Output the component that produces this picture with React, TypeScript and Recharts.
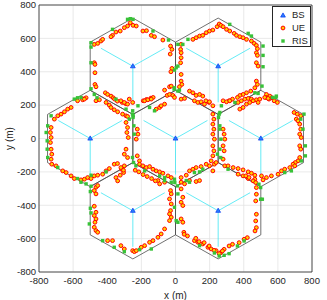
import React from 'react'
import { ScatterChart, Scatter, XAxis, YAxis, CartesianGrid, ReferenceLine, ReferenceArea } from 'recharts'

// base stations (cell centres), metres
const bsPoints: [number, number][] = [
  [0, 0], [-500, 0], [500, 0], [-250, 433], [250, 433], [-250, -433], [250, -433],
]

// user equipment
const uePoints: [number, number][] = [
  // top-left cell
  [-265, 694], [-281, 674], [-300, 664], [-324, 644], [-349, 638], [-369, 618], [-378, 610],
  [-476, 564], [-456, 570], [-437, 584], [-427, 594],
  [-476, 454], [-472, 444], [-472, 394], [-472, 324], [-466, 310],
  [-411, 274], [-398, 264], [-378, 254], [-365, 244], [-357, 236], [-341, 224], [-312, 216], [-291, 208],
  [-524, 244], [-544, 238],
  [-249, 678], [-230, 674], [-191, 644], [-170, 646], [-142, 618], [-123, 610], [-74, 590],
  [-29, 554], [-21, 534], [-31, 506], [-21, 420], [-27, 400], [-35, 310],
  [-25, 314], [-64, 290], [-49, 258], [-35, 264], [-15, 258],
  [-189, 226], [-170, 234], [-144, 242], [-131, 246],
  [-466, 226], [-446, 232], [-407, 216], [-388, 200], [-378, 186], [-359, 172], [-339, 160], [-310, 146], [-290, 136], [-281, 132],
  [-320, 226], [-300, 216], [-281, 206], [-251, 216], [-271, 236],
  // top-right cell
  [33, 564], [30, 534], [33, 514], [33, 484], [30, 454], [33, 384], [33, 344], [37, 324], [23, 310],
  [102, 594], [121, 604], [141, 614], [160, 618], [180, 634], [199, 644], [219, 650], [244, 670],
  [256, 686], [266, 678], [279, 670], [299, 654], [318, 644], [344, 630], [357, 618], [377, 610], [396, 604], [416, 594],
  [445, 584], [461, 570], [474, 558], [480, 538], [474, 514], [480, 498], [474, 454], [484, 434], [474, 344], [480, 324], [465, 304],
  [441, 284], [416, 274], [396, 264], [377, 258], [363, 246], [334, 236], [314, 226],
  [82, 284], [102, 274], [121, 258], [141, 264], [160, 254], [178, 226], [197, 216],
  [553, 254], [566, 244], [533, 264], [529, 246], [548, 236], [578, 226], [597, 216],
  // centre cell
  [-181, 226], [-162, 232], [-142, 236], [-113, 176], [-93, 186], [-84, 196], [-64, 206], [-6, 246], [33, 236], [53, 240],
  [111, 226], [131, 216], [150, 220], [170, 206], [199, 220], [219, 196],
  [219, 146], [225, 116], [219, 86], [225, 56], [219, 26], [228, -4], [219, -44], [225, -74], [219, -104], [209, -134], [228, -154], [219, -194],
  [-224, 56], [-220, 26], [-230, -4], [-224, -104], [-211, -134],
  [-211, -154], [-191, -164], [-171, -174], [-152, -168], [-132, -184], [-113, -194], [-93, -200], [-74, -208], [-44, -224], [-25, -234],
  [33, -234], [63, -220], [82, -194], [102, -184], [121, -174], [150, -168], [180, -154], [199, -164], [238, -144],
  // left cell
  [-544, 232], [-534, 236], [-574, 226],
  [-612, 186], [-632, 176], [-651, 160], [-671, 146], [-690, 136], [-710, 116],
  [-729, 66], [-733, 36], [-729, 6], [-733, -24], [-729, -64], [-725, -94], [-729, -124], [-725, -154],
  [-700, -164], [-661, -194], [-641, -204], [-612, -224], [-593, -240], [-554, -248], [-534, -244], [-515, -234], [-495, -240],
  [-476, -224], [-456, -220], [-427, -214], [-407, -194], [-388, -180],
  [-290, 96], [-281, 66], [-285, 36], [-277, 6], [-290, -64], [-300, -94], [-281, -114], [-300, -164], [-316, -184], [-304, -204],
  [-324, -220], [-349, -234], [-339, -254], [-359, -154], [-340, -150], [-320, -174], [-305, -190],
  // right cell
  [279, 226], [299, 220], [318, 226], [367, 216], [386, 226], [406, 236], [426, 240], [445, 236], [474, 232], [494, 236], [523, 246], [543, 240],
  [377, 176], [396, 186], [416, 206], [435, 216], [455, 226], [484, 216],
  [695, 156], [714, 146], [734, 136],
  [708, 116], [718, 106], [728, 86], [734, 56], [728, 26], [737, 6], [728, -44], [734, -64], [728, -114], [718, -134], [702, -144], [689, -154],
  [279, 56], [285, 26], [289, -4], [279, -44], [285, -74], [279, -124], [289, -164],
  [308, -164], [338, -174], [367, -180], [396, -188], [426, -200], [445, -208], [465, -220], [504, -224], [533, -234], [562, -224],
  [601, -214], [621, -194], [640, -184], [670, -174], [699, -164],
  [367, -214], [396, -224], [426, -240], [465, -244], [513, -248],
  // bottom-left cell
  [-466, -292], [-456, -282], [-476, -312], [-466, -332], [-476, -406], [-466, -442], [-476, -462], [-466, -482], [-472, -502],
  [-476, -532], [-466, -552], [-456, -562],
  [-398, -612], [-369, -612], [-320, -642], [-300, -662], [-251, -672], [-241, -678],
  [-29, -312], [-25, -332], [-35, -362], [-25, -392], [-29, -432], [-35, -452], [-25, -472], [-35, -492],
  [-64, -542], [-84, -572], [-103, -592], [-132, -612], [-152, -622], [-181, -642], [-201, -652], [-230, -672],
  [-103, -252], [-93, -272], [-64, -262],
  [-236, -190], [-215, -200], [-190, -216], [-166, -228], [-140, -240], [-118, -254],
  // bottom-right cell
  [33, -302], [43, -352], [33, -382], [43, -402], [33, -482], [43, -502], [49, -562],
  [33, -262], [53, -272], [82, -252], [121, -258], [141, -252],
  [111, -612], [131, -622], [160, -632], [190, -652], [209, -662], [238, -672],
  [474, -294], [474, -334], [470, -374], [474, -454], [470, -494], [474, -534], [466, -554],
  [412, -224], [431, -234], [455, -254], [470, -264],
  [421, -594], [402, -604], [373, -624], [334, -634], [314, -644], [285, -664], [265, -684], [275, -674], [256, -690],
  [51, -574], [70, -584], [119, -598], [138, -618], [168, -624], [197, -644], [226, -670],
]

// reconfigurable intelligent surfaces
const risPoints: [number, number][] = [
  [-281, 714], [-265, 718], [-249, 714], [-369, 654], [-495, 574], [-495, 548], [-495, 454], [-495, 298],
  [-574, 244], [-593, 236], [-554, 246], [-476, 264], [-460, 244], [-132, 644], [-41, 590], [14, 564], [43, 564],
  [4, 424], [14, 434], [-6, 410], [-6, 304], [14, 284], [23, 290], [-8, 296], [73, 594],
  [-349, 236], [-290, 176], [-251, 166], [-271, 116], [-220, 196], [-152, 186], [-123, 166],
  [-252, 146], [-248, 136], [-242, 26], [-252, -114], [-246, -144], [-232, -164], [-244, 76], [-249, 126],
  [318, 684], [426, 630], [445, 614], [513, 554], [513, 498], [513, 430], [507, 314], [465, 274], [484, 270],
  [591, 254], [568, 246], [588, 246], [269, 196], [348, 216],
  [256, 146], [252, 126], [260, 76], [246, -94], [265, -114], [260, 156], [260, 56], [266, -4], [260, -64],
  [753, 146], [734, 116], [747, 56], [761, -44], [761, -104], [308, -184], [640, -204], [679, -194], [737, -134],
  [-729, 136], [-749, 76], [-758, 36], [-752, -14], [-752, -64], [-749, -114], [-690, -174], [-574, -240], [-495, -220], [-407, -200],
  [-181, -194], [-93, -224], [-64, -234], [-6, -244], [111, -204], [141, -200], [160, -184], [-4, -264], [12, -284],
  [-64, -252], [-25, -262], [63, -252], [82, -262],
  [-554, -262], [-524, -272], [-495, -286], [-499, -318], [-499, -418], [-495, -446], [-505, -512],
  [-427, -612], [-359, -652], [-300, -678], [-142, -662], [-211, -666], [-6, -412], [4, -492], [14, -502], [14, -332],
  [499, -364], [499, -294], [489, -274], [509, -364], [402, -614], [363, -644], [314, -690], [285, -700], [256, -704],
  [141, -642], [228, -686],
]

const xTicks = [-800, -600, -400, -200, 0, 200, 400, 600, 800]
const yTicks = [-800, -600, -400, -200, 0, 200, 400, 600, 800]

// cell geometry: hexagon circumradius from 500 m site spacing
const R = 500 / Math.sqrt(3)
const hexAngles = [30, 90, 150, 210, 270, 330]
const sectorAngles = [30, 150, 270]
const sectorLen = 216

const rad = (d: number) => (d * Math.PI) / 180
const toXY = (p: [number, number]) => ({ x: p[0], y: p[1] })

const hexEdges = bsPoints.flatMap(([cx, cy]) =>
  hexAngles.map((a, i) => {
    const b = hexAngles[(i + 1) % 6]
    return [
      { x: cx + R * Math.cos(rad(a)), y: cy + R * Math.sin(rad(a)) },
      { x: cx + R * Math.cos(rad(b)), y: cy + R * Math.sin(rad(b)) },
    ]
  })
)

const sectorLines = bsPoints.flatMap(([cx, cy]) =>
  sectorAngles.map((a) => [
    { x: cx, y: cy },
    { x: cx + sectorLen * Math.cos(rad(a)), y: cy + sectorLen * Math.sin(rad(a)) },
  ])
)

const FONT = '"Liberation Sans", Arial, sans-serif'
const TEXT = '#262626'
const UE_FILL = '#ffd000'
const UE_EDGE = '#ff0000'
const RIS_COLOR = '#38c238'
const BS_FILL = '#2a7dff'
const BS_EDGE = '#0033ee'

const ueShape = (p: any) => <circle cx={p.cx} cy={p.cy} r={1.9} fill={UE_FILL} stroke={UE_EDGE} strokeWidth={1} />
const risShape = (p: any) => <rect x={p.cx - 1.7} y={p.cy - 1.7} width={3.4} height={3.4} fill={RIS_COLOR} />
const bsShape = (p: any) => (
  <polygon
    points={`${p.cx},${p.cy - 2.6} ${p.cx - 2.4},${p.cy + 1.6} ${p.cx + 2.4},${p.cy + 1.6}`}
    fill={BS_FILL}
    stroke={BS_EDGE}
    strokeWidth={0.7}
  />
)

function LegendBox() {
  const row = (icon: React.ReactNode, label: string) => (
    <div style={{ display: 'flex', alignItems: 'center', height: 13 }}>
      <svg width={14} height={10} style={{ marginLeft: 3 }}>
        {icon}
      </svg>
      <span style={{ marginLeft: 2 }}>{label}</span>
    </div>
  )
  return (
    <div
      style={{
        position: 'absolute',
        left: 272,
        top: 6,
        background: '#fff',
        border: '1px solid #262626',
        width: 39,
        height: 41,
        boxSizing: 'border-box',
        paddingTop: 1,
        fontFamily: FONT,
        fontSize: 9.5,
        color: TEXT,
        lineHeight: '13px',
      }}
    >
      {row(bsShape({ cx: 7, cy: 5.5 }), 'BS')}
      {row(<circle cx={7} cy={5} r={1.9} fill={UE_FILL} stroke={UE_EDGE} strokeWidth={1} />, 'UE')}
      {row(<rect x={5.3} y={3.3} width={3.4} height={3.4} fill={RIS_COLOR} />, 'RIS')}
    </div>
  )
}

export default function App() {
  return (
    <div style={{ position: 'absolute', left: 0, top: 0, background: '#fff' }}>
      <ScatterChart width={327} height={300} margin={{ top: 5, right: 15, bottom: 0, left: 0 }}>
        <CartesianGrid stroke="#e3e3e3" strokeWidth={0.8} />
        <XAxis
          type="number"
          dataKey="x"
          domain={[-800, 800]}
          ticks={xTicks}
          allowDataOverflow
          height={28}
          axisLine={false}
          tickLine={false}
          tickSize={3}
          tickMargin={2}
          tick={{ fontSize: 9.5, fill: TEXT, fontFamily: FONT }}
          label={{ value: 'x (m)', position: 'insideBottom', offset: 1, fill: TEXT, fontSize: 10, fontFamily: FONT }}
        />
        <YAxis
          type="number"
          dataKey="y"
          domain={[-800, 800]}
          ticks={yTicks}
          allowDataOverflow
          width={39}
          axisLine={false}
          tickLine={false}
          tickSize={3}
          tickMargin={0}
          tick={{ fontSize: 9.5, fill: TEXT, fontFamily: FONT }}
          label={{
            value: 'y (m)',
            angle: -90,
            position: 'insideLeft',
            offset: 9,
            fill: TEXT,
            fontSize: 10,
            fontFamily: FONT,
            style: { textAnchor: 'middle' },
          }}
        />
        {sectorLines.map((seg, i) => (
          <ReferenceLine key={`s${i}`} segment={seg} stroke="#3ee6f2" strokeWidth={0.8} ifOverflow="visible" />
        ))}
        {hexEdges.map((seg, i) => (
          <ReferenceLine key={`h${i}`} segment={seg} stroke="#4d4d4d" strokeWidth={0.8} ifOverflow="visible" />
        ))}
        <Scatter name="BS" data={bsPoints.map(toXY)} shape={bsShape} isAnimationActive={false} />
        <Scatter name="UE" data={uePoints.map(toXY)} shape={ueShape} isAnimationActive={false} />
        <Scatter name="RIS" data={risPoints.map(toXY)} shape={risShape} isAnimationActive={false} />
        <ReferenceArea x1={-800} x2={800} y1={-800} y2={800} fill="none" stroke="#262626" strokeWidth={0.8} ifOverflow="visible" />
      </ScatterChart>
      <LegendBox />
    </div>
  )
}
